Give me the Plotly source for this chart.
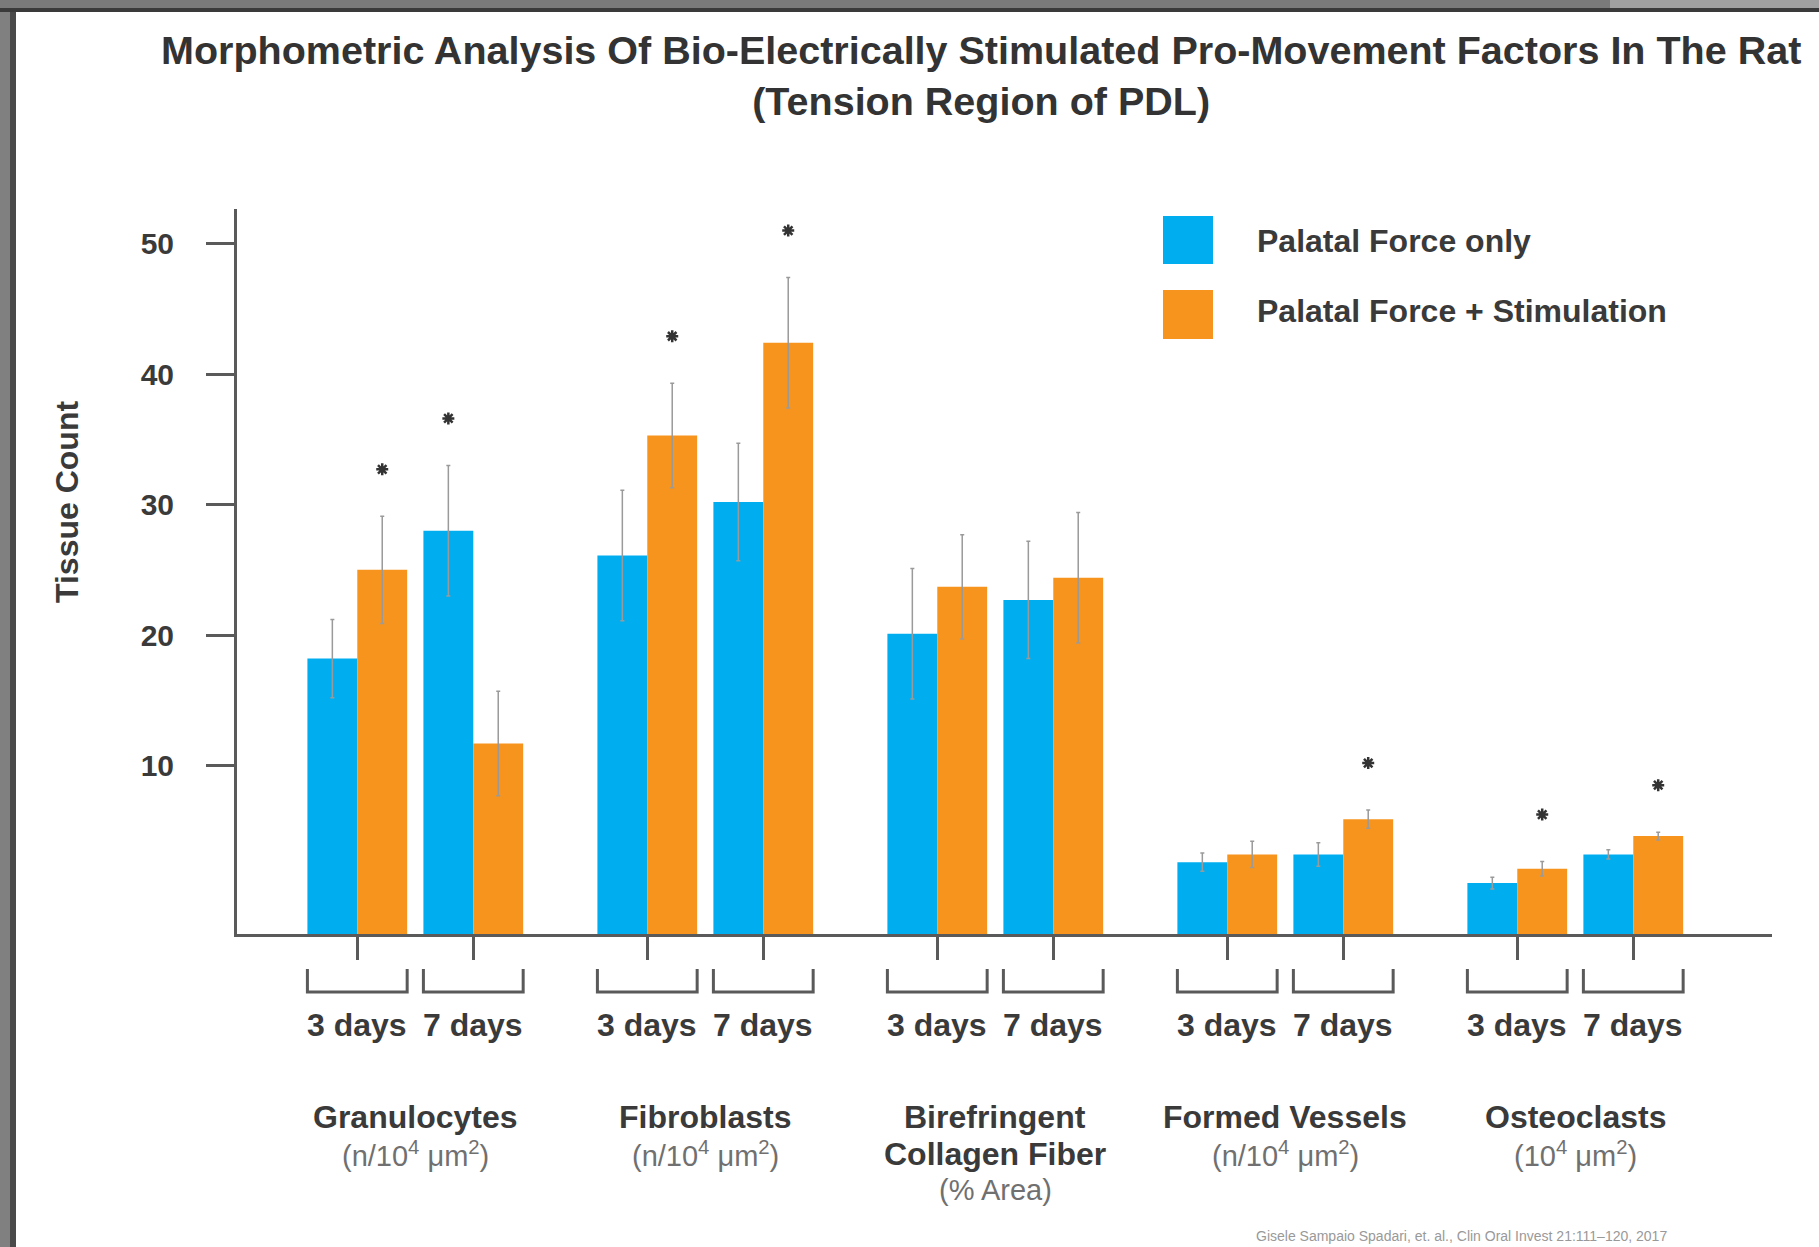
import plotly.graph_objects as go

# ---------------- data ----------------
group_names = [["Granulocytes"], ["Fibroblasts"], ["Birefringent", "Collagen Fiber"],
               ["Formed Vessels"], ["Osteoclasts"]]
group_units = ["(n/10<sup>4</sup> μm<sup>2</sup>)", "(n/10<sup>4</sup> μm<sup>2</sup>)", "(% Area)",
               "(n/10<sup>4</sup> μm<sup>2</sup>)", "(10<sup>4</sup> μm<sup>2</sup>)"]
days = ["3 days", "7 days"]
series_names = ["Palatal Force only", "Palatal Force + Stimulation"]

# order: group0 3d, group0 7d, group1 3d, ...
force_only = [18.2, 28.0, 26.1, 30.2, 20.1, 22.7, 2.6, 3.2, 1.0, 3.2]
force_only_err = [3.0, 5.0, 5.0, 4.5, 5.0, 4.5, 0.7, 0.9, 0.45, 0.35]
force_stim = [25.0, 11.7, 35.3, 42.4, 23.7, 24.4, 3.2, 5.9, 2.1, 4.6]
force_stim_err = [4.1, 4.0, 4.0, 5.0, 4.0, 5.0, 1.0, 0.7, 0.55, 0.3]
sig_only = [0, 1, 0, 0, 0, 0, 0, 0, 0, 0]
sig_stim = [1, 0, 1, 1, 0, 0, 0, 1, 1, 1]

y_ticks = [10, 20, 30, 40, 50]
citation = "Gisele Sampaio Spadari, et. al., Clin Oral Invest 21:111–120, 2017"

# ---------------- style ----------------
BLUE = "#00AEEF"
ORANGE = "#F7941D"
TXT = "#3a3a3a"
AX = "#5a5a5a"
FONT = "Liberation Sans, Arial, sans-serif"
W, H = 1819, 1247
L, R, T, B = 237, 47, 209, 313
PW, PH = W - L - R, H - T - B
Y_MIN, Y_MAX = -2.9, 52.65
BW = 0.43
STAR_GAP = 3.6


def fx(p):
    return (p - L) / PW


def fy(p):
    return (H - B - p) / PH


centers = [2.5 * g + d for g in range(len(group_names)) for d in range(len(days))]
group_centers = [2.5 * g + 0.5 for g in range(len(group_names))]

fig = go.Figure()

for vals, errs, sig, color, name, off in [
    (force_only, force_only_err, sig_only, BLUE, series_names[0], -BW / 2),
    (force_stim, force_stim_err, sig_stim, ORANGE, series_names[1], BW / 2),
]:
    xs = [c + off for c in centers]
    fig.add_trace(go.Bar(
        x=xs, y=[v - Y_MIN for v in vals], base=Y_MIN, width=BW,
        marker=dict(color=color, line=dict(width=0)),
        error_y=dict(type="data", array=errs, color="#9a9a9a", thickness=1.5, width=2),
        customdata=vals, hovertemplate="%{customdata}<extra>" + name + "</extra>",
        showlegend=False, name=name,
    ))
    sx = [x for x, s in zip(xs, sig) if s]
    sy = [v + e + STAR_GAP for v, e, s in zip(vals, errs, sig) if s]
    fig.add_trace(go.Scatter(
        x=sx, y=sy, mode="markers", showlegend=False, hoverinfo="skip",
        marker=dict(symbol="asterisk-open", size=10, color="#333333",
                    line=dict(width=2.5, color="#333333")),
    ))

shapes = []
annotations = []

# brackets under each pair
for c in centers:
    x0, x1 = c - 0.43, c + 0.43
    y0, y1 = fy(969), fy(992)
    shapes.append(dict(type="path", xref="x", yref="paper",
                       path=f"M {x0},{y0} L {x0},{y1} L {x1},{y1} L {x1},{y0}",
                       line=dict(color=AX, width=3)))

# day labels
for i, c in enumerate(centers):
    annotations.append(dict(x=c, y=fy(1025), xref="x", yref="paper", showarrow=False,
                            text="<b>" + days[i % 2] + "</b>", xanchor="center", yanchor="middle",
                            font=dict(size=32, color=TXT, family=FONT)))

# group labels
for gc, names, unit in zip(group_centers, group_names, group_units):
    ypos = [1117, 1154, 1190]
    k = 0
    for nm in names:
        annotations.append(dict(x=gc, y=fy(ypos[k]), xref="x", yref="paper", showarrow=False,
                                text="<b>" + nm + "</b>", xanchor="center", yanchor="middle",
                                font=dict(size=32, color=TXT, family=FONT)))
        k += 1
    annotations.append(dict(x=gc, y=fy(ypos[k]), xref="x", yref="paper", showarrow=False,
                            text=unit, xanchor="center", yanchor="middle",
                            font=dict(size=29, color="#707070", family=FONT)))

# title
annotations.append(dict(x=fx(981), y=fy(76), xref="paper", yref="paper", showarrow=False,
                        text="<b>Morphometric Analysis Of Bio-Electrically Stimulated Pro-Movement Factors In The Rat"
                             "<br>(Tension Region of PDL)</b>",
                        xanchor="center", yanchor="middle",
                        font=dict(size=39.5, color="#333333", family=FONT)))

# y title
annotations.append(dict(x=fx(67), y=fy(502), xref="paper", yref="paper", showarrow=False,
                        text="<b>Tissue Count</b>", textangle=-90, xanchor="center", yanchor="middle",
                        font=dict(size=32, color=TXT, family=FONT)))

# legend
for (ytop, ybot, ytxt), color, name in zip([(216, 264, 241), (290, 339, 311)], [BLUE, ORANGE], series_names):
    shapes.append(dict(type="rect", xref="paper", yref="paper", x0=fx(1163), x1=fx(1213),
                       y0=fy(ybot), y1=fy(ytop), fillcolor=color, line=dict(width=0)))
    annotations.append(dict(x=fx(1255), y=fy(ytxt), xref="paper", yref="paper", showarrow=False,
                            text="<b>" + name + "</b>", xanchor="left", yanchor="middle",
                            font=dict(size=32, color=TXT, family=FONT)))

# citation
annotations.append(dict(x=fx(1461), y=fy(1236), xref="paper", yref="paper", showarrow=False,
                        text=citation, xanchor="center", yanchor="middle",
                        font=dict(size=14, color="#999999", family=FONT)))

# screenshot frame (grey borders)
shapes += [
    dict(type="rect", xref="paper", yref="paper", x0=fx(0), x1=fx(10), y0=fy(H), y1=fy(0),
         fillcolor="#808080", line=dict(width=0), layer="above"),
    dict(type="rect", xref="paper", yref="paper", x0=fx(10), x1=fx(16), y0=fy(H), y1=fy(0),
         fillcolor="#4a4a4a", line=dict(width=0), layer="above"),
    dict(type="rect", xref="paper", yref="paper", x0=fx(0), x1=fx(W), y0=fy(8), y1=fy(0),
         fillcolor="#7a7a7a", line=dict(width=0), layer="above"),
    dict(type="rect", xref="paper", yref="paper", x0=fx(1610), x1=fx(W), y0=fy(8), y1=fy(0),
         fillcolor="#a0a0a0", line=dict(width=0), layer="above"),
    dict(type="rect", xref="paper", yref="paper", x0=fx(0), x1=fx(W), y0=fy(12), y1=fy(8),
         fillcolor="#3a3a3a", line=dict(width=0), layer="above"),
]

fig.update_layout(
    width=W, height=H,
    margin=dict(l=L, r=R, t=T, b=B, autoexpand=False),
    paper_bgcolor="white", plot_bgcolor="white",
    barmode="overlay", showlegend=False,
    shapes=shapes, annotations=annotations,
    font=dict(family=FONT, color=TXT),
    xaxis=dict(range=[-1.037, 12.196], showgrid=False, zeroline=False,
               showline=True, linecolor=AX, linewidth=3,
               tickmode="array", tickvals=centers, ticks="outside", ticklen=23,
               tickwidth=3, tickcolor=AX, showticklabels=False, fixedrange=True),
    yaxis=dict(range=[Y_MIN, Y_MAX], showgrid=False, zeroline=False,
               showline=True, linecolor=AX, linewidth=3,
               tickmode="array", tickvals=y_ticks, ticks="outside", ticklen=28,
               tickwidth=3, tickcolor=AX, ticklabelstandoff=26,
               tickfont=dict(size=30, color=TXT, family=FONT, weight="bold"), fixedrange=True),
)

fig.write_html("out.html", config={"displayModeBar": False},
               post_script="document.body.style.margin='0';document.body.style.overflow='hidden';")
